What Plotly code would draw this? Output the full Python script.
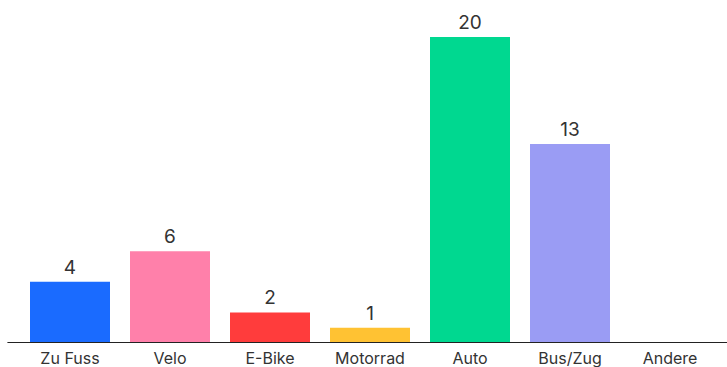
import plotly.graph_objects as go

categories = ["Zu Fuss", "Velo", "E-Bike", "Motorrad", "Auto", "Bus/Zug", "Andere"]
values = [4, 6, 2, 1, 20, 13, 0]
colors = ["#1a6bff", "#ff80aa", "#ff3c3c", "#ffc233", "#00d890", "#9a9cf4", "#cccccc"]

labels = [str(v) if v > 0 else "" for v in values]

fig = go.Figure(go.Bar(
    x=categories, y=values, marker_color=colors, marker_line_width=0,
    text=labels, textposition="outside", cliponaxis=False,
    textfont=dict(family="Inter", size=19, color="#333333"),
))

fig.update_layout(
    width=727, height=367,
    margin=dict(l=20, r=7, t=7, b=24),
    paper_bgcolor="white", plot_bgcolor="white",
    bargap=0.2, showlegend=False,
    font=dict(family="Inter", color="#333333"),
    xaxis=dict(showgrid=False, showline=False, ticks="outside", ticklen=1,
               tickcolor="rgba(0,0,0,0)", automargin=False,
               tickfont=dict(family="Inter", size=16, color="#333333"),
               fixedrange=True),
    yaxis=dict(range=[0, 21.96], showgrid=False, showticklabels=False,
               zeroline=False, showline=False, fixedrange=True, automargin=False),
    shapes=[dict(type="line", xref="paper", yref="y", x0=-0.018, x1=1.01,
                 y0=0, y1=0, line=dict(color="#222222", width=2))],
)

fig.write_html("out.html")
